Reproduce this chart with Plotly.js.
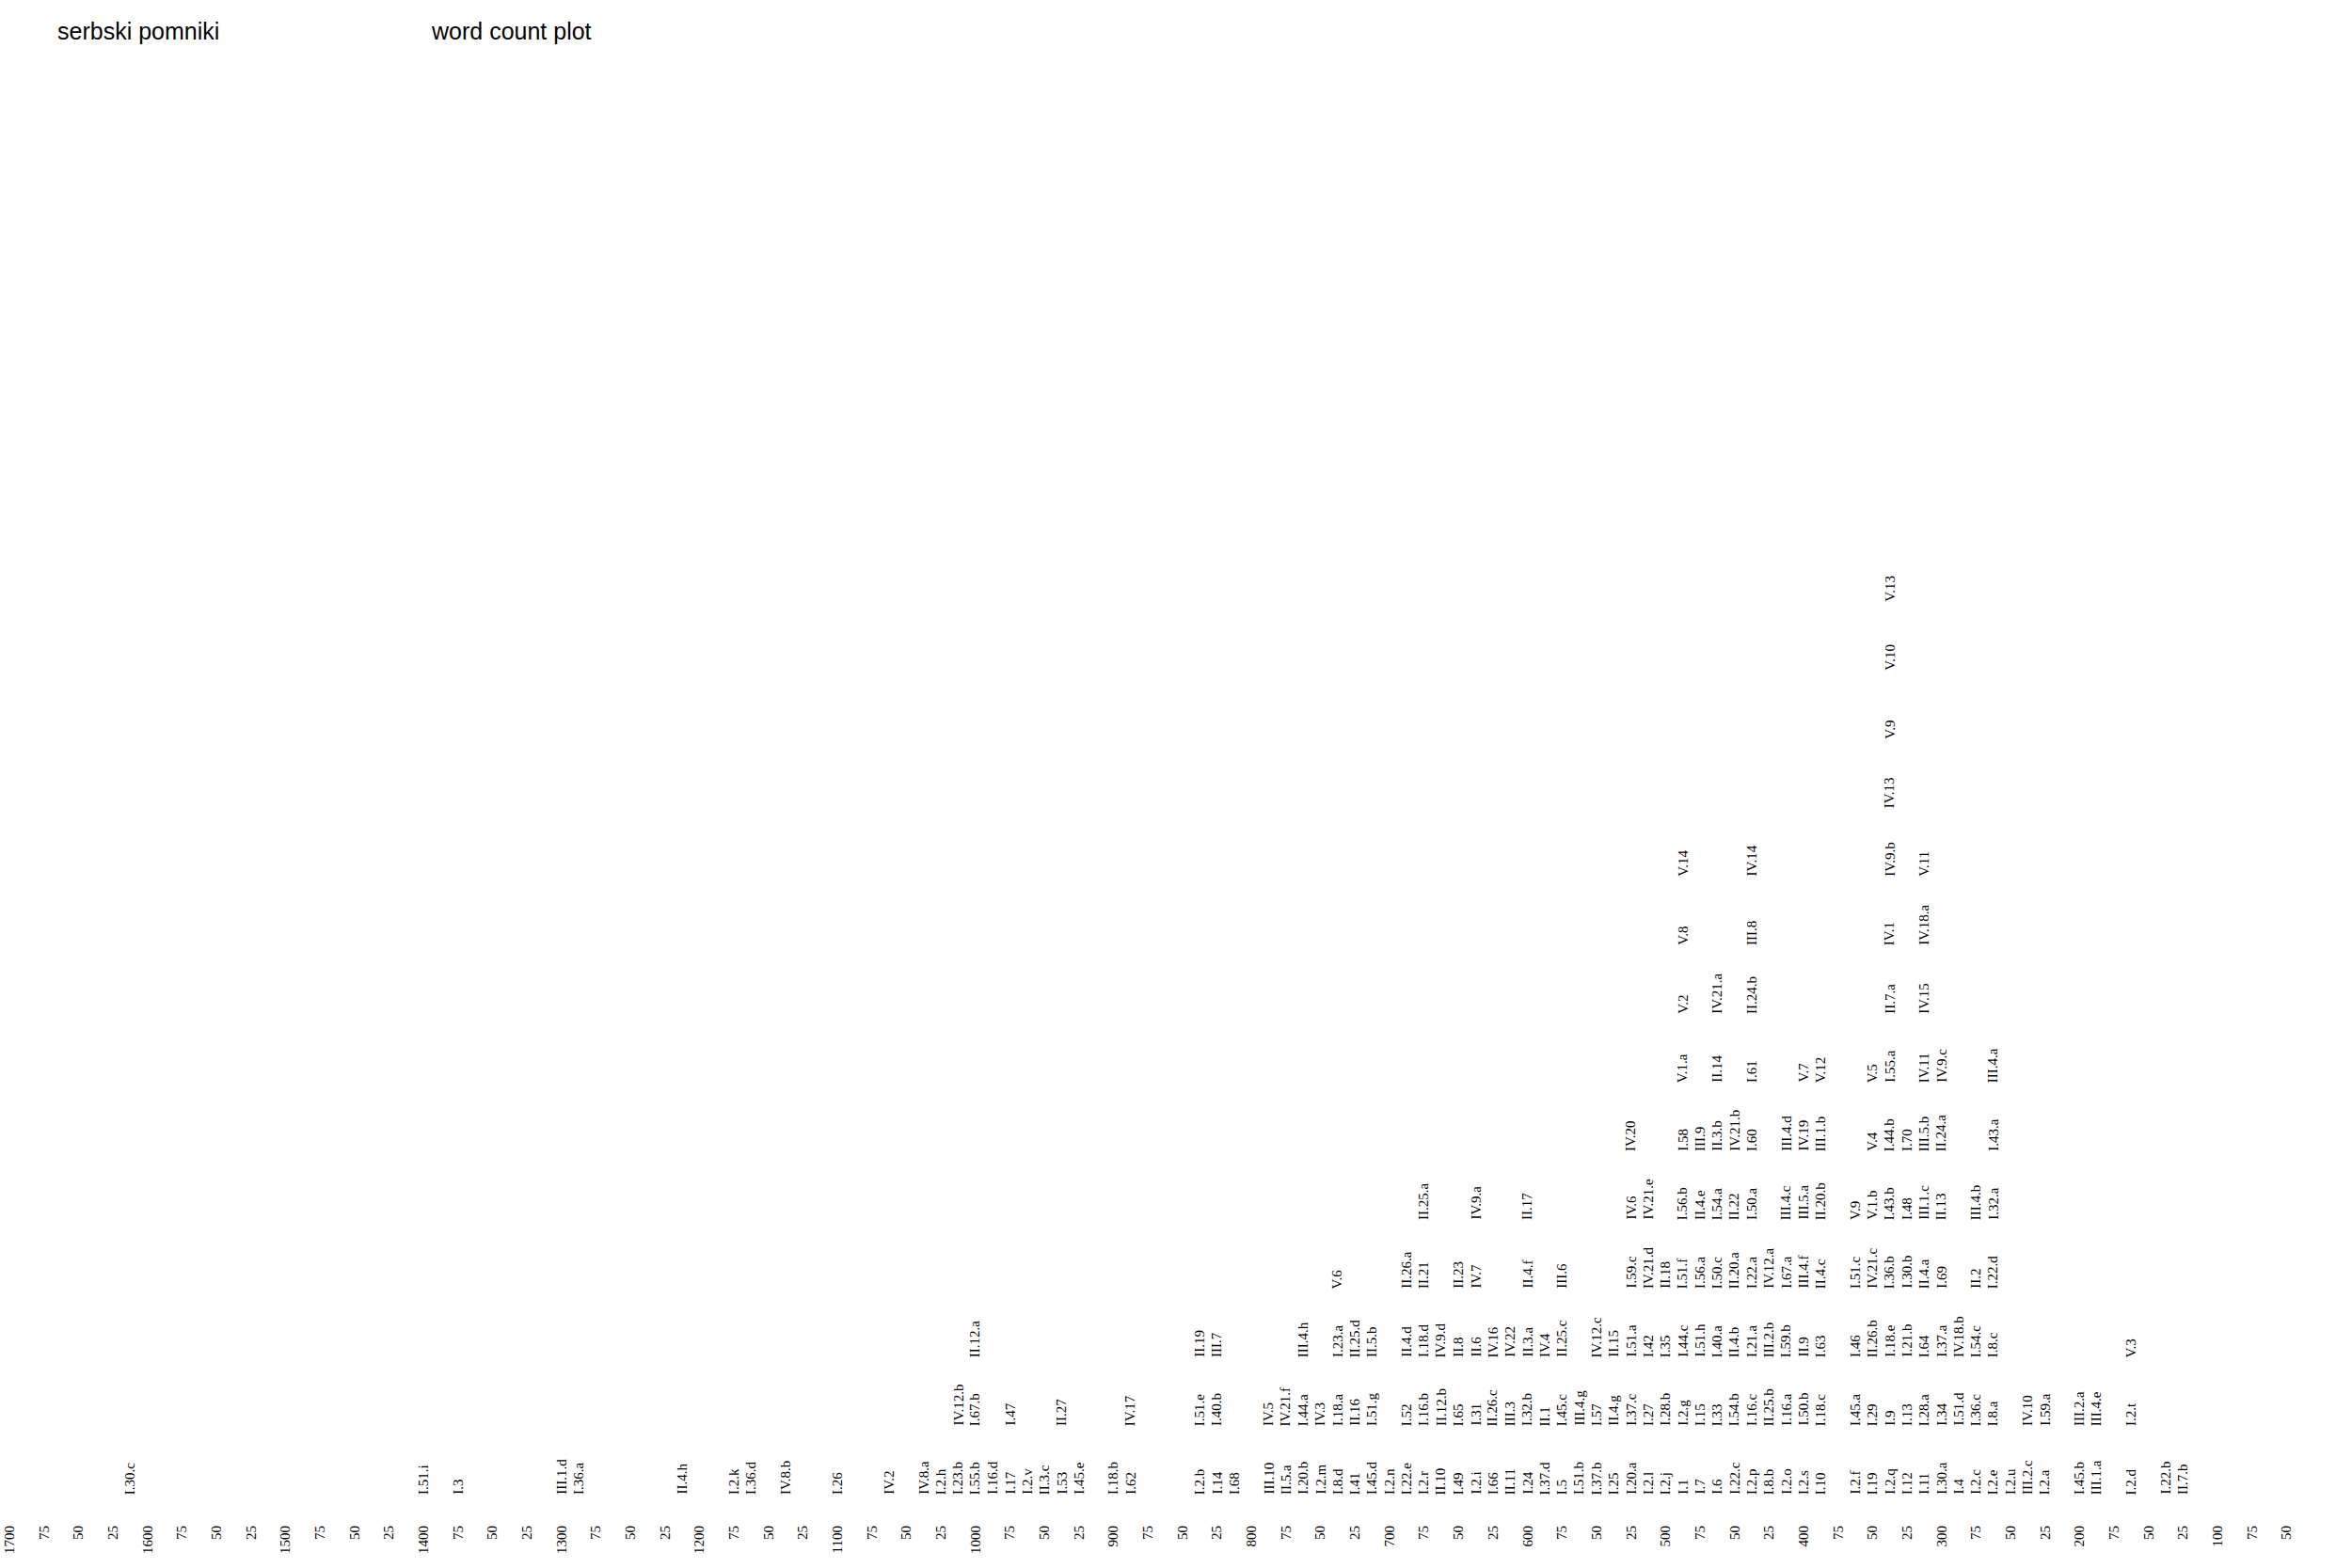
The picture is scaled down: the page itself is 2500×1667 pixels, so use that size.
<!DOCTYPE html>
<html>
<head>
<meta charset="utf-8">
<script src="https://cdn.plot.ly/plotly-3.0.1.min.js"></script>
<style>
  html, body { margin: 0; padding: 0; background: #fff; }
  #chart { width: 2500px; height: 1667px; }
</style>
</head>
<body>
<div id="chart"></div>
<script>
/* word count bins (12.5 words wide) and the texts stacked in each bin, bottom to top */
const binWords = [
  1612.5, 1400, 1375, 1300, 1287.5, 1212.5, 1175, 1162.5, 1137.5, 1100,
  1062.5, 1037.5, 1025, 1012.5, 1000, 987.5, 975, 962.5, 950, 937.5,
  925, 900, 887.5, 837.5, 825, 812.5, 787.5, 775, 762.5, 750,
  737.5, 725, 712.5, 700, 687.5, 675, 662.5, 650, 637.5, 625,
  612.5, 600, 587.5, 575, 562.5, 550, 537.5, 525, 512.5, 500,
  487.5, 475, 462.5, 450, 437.5, 425, 412.5, 400, 387.5, 362.5,
  350, 337.5, 325, 312.5, 300, 287.5, 275, 262.5, 250, 237.5,
  225, 200, 187.5, 162.5, 137.5, 125
];

const binLabels = [
  ["I.30.c"], ["I.51.i"], ["I.3"], ["III.1.d"], ["I.36.a"], ["II.4.h"], ["I.2.k"], ["I.36.d"], ["IV.8.b"], ["I.26"],
  ["IV.2"], ["IV.8.a"], ["I.2.h"], ["I.23.b", "IV.12.b"], ["I.55.b", "I.67.b", "II.12.a"], ["I.16.d"], ["I.17", "I.47"], ["I.2.v"], ["II.3.c"], ["I.53", "II.27"],
  ["I.45.e"], ["I.18.b"], ["I.62", "IV.17"], ["I.2.b", "I.51.e", "II.19"], ["I.14", "I.40.b", "III.7"], ["I.68"], ["III.10", "IV.5"], ["II.5.a", "IV.21.f"], ["I.20.b", "I.44.a", "III.4.h"], ["I.2.m", "IV.3"],
  ["I.8.d", "I.18.a", "I.23.a", "V.6"],
  ["I.41", "II.16", "II.25.d"],
  ["I.45.d", "I.51.g", "II.5.b"],
  ["I.2.n"],
  ["I.22.e", "I.52", "II.4.d", "II.26.a"],
  ["I.2.r", "I.16.b", "I.18.d", "II.21", "II.25.a"],
  ["II.10", "II.12.b", "IV.9.d"],
  ["I.49", "I.65", "II.8", "II.23"],
  ["I.2.i", "I.31", "II.6", "IV.7", "IV.9.a"],
  ["I.66", "II.26.c", "IV.16"],
  ["II.11", "III.3", "IV.22"],
  ["I.24", "I.32.b", "II.3.a", "II.4.f", "II.17"],
  ["I.37.d", "II.1", "IV.4"],
  ["I.5", "I.45.c", "II.25.c", "III.6"],
  ["I.51.b", "III.4.g"],
  ["I.37.b", "I.57", "IV.12.c"],
  ["I.25", "II.4.g", "II.15"],
  ["I.20.a", "I.37.c", "I.51.a", "I.59.c", "IV.6", "IV.20"],
  ["I.2.l", "I.27", "I.42", "IV.21.d", "IV.21.e"],
  ["I.2.j", "I.28.b", "I.35", "II.18"],
  ["I.1", "I.2.g", "I.44.c", "I.51.f", "I.56.b", "I.58", "V.1.a", "V.2", "V.8", "V.14"],
  ["I.7", "I.15", "I.51.h", "I.56.a", "II.4.e", "III.9"],
  ["I.6", "I.33", "I.40.a", "I.50.c", "I.54.a", "II.3.b", "II.14", "IV.21.a"],
  ["I.22.c", "I.54.b", "II.4.b", "II.20.a", "II.22", "IV.21.b"],
  ["I.2.p", "I.16.c", "I.21.a", "I.22.a", "I.50.a", "I.60", "I.61", "II.24.b", "III.8", "IV.14"],
  ["I.8.b", "II.25.b", "III.2.b", "IV.12.a"],
  ["I.2.o", "I.16.a", "I.59.b", "I.67.a", "III.4.c", "III.4.d"],
  ["I.2.s", "I.50.b", "II.9", "III.4.f", "III.5.a", "IV.19", "V.7"],
  ["I.10", "I.18.c", "I.63", "II.4.c", "II.20.b", "III.1.b", "V.12"],
  ["I.2.f", "I.45.a", "I.46", "I.51.c", "V.9"],
  ["I.19", "I.29", "II.26.b", "IV.21.c", "V.1.b", "V.4", "V.5"],
  ["I.2.q", "I.9", "I.18.e", "I.36.b", "I.43.b", "I.44.b", "I.55.a", "II.7.a", "IV.1", "IV.9.b", "IV.13", "V.9", "V.10", "V.13"],
  ["I.12", "I.13", "I.21.b", "I.30.b", "I.48", "I.70"],
  ["I.11", "I.28.a", "I.64", "II.4.a", "III.1.c", "III.5.b", "IV.11", "IV.15", "IV.18.a", "V.11"],
  ["I.30.a", "I.34", "I.37.a", "I.69", "II.13", "II.24.a", "IV.9.c"],
  ["I.4", "I.51.d", "IV.18.b"],
  ["I.2.c", "I.36.c", "I.54.c", "II.2", "III.4.b"],
  ["I.2.e", "I.8.a", "I.8.c", "I.22.d", "I.32.a", "I.43.a", "III.4.a"],
  ["I.2.u"],
  ["III.2.c", "IV.10"],
  ["I.2.a", "I.59.a"],
  ["I.45.b", "III.2.a"],
  ["III.1.a", "III.4.e"],
  ["I.2.d", "I.2.t", "V.3"],
  ["I.22.b"],
  ["II.7.b"]
];

const tickVals = [];
const tickText = [];
for (let v = 1700; v >= 50; v -= 25) {
  tickVals.push(v);
  tickText.push(v % 100 === 0 ? String(v) : String(v % 100));
}

const SERIF = "Liberation Serif, Times New Roman, serif";
const SANS = "Liberation Sans, Arial, sans-serif";

const annotations = [];
const px = [];
const py = [];
binWords.forEach((w, i) => {
  binLabels[i].forEach((name, level) => {
    px.push(w);
    py.push(level);
    annotations.push({
      x: w, y: level, xref: "x", yref: "y",
      text: name, textangle: -90, showarrow: false,
      xanchor: "center", yanchor: "bottom",
      borderpad: 0,
      font: { family: SERIF, size: 15, color: "#000" }
    });
  });
});

annotations.push({
  xref: "paper", yref: "paper", x: 456 / 2500, y: 1 - 33 / 1618,
  xanchor: "left", yanchor: "middle", showarrow: false,
  text: "word count plot",
  font: { family: SANS, size: 25, color: "#000" }
});

const traces = [{
  x: px, y: py, type: "scatter", mode: "markers",
  marker: { size: 1, opacity: 0 }, hoverinfo: "skip", showlegend: false
}];

const layout = {
  width: 2500, height: 1667,
  margin: { l: 0, r: 0, t: 0, b: 49 },
  paper_bgcolor: "#fff", plot_bgcolor: "#fff",
  showlegend: false,
  title: {
    text: "serbski pomniki", x: 61 / 2500, xanchor: "left",
    y: 1 - 33 / 1667, yanchor: "middle",
    font: { family: SANS, size: 25, color: "#000" }
  },
  xaxis: {
    range: [1706.8, 2.6], autorange: false,
    tickmode: "array", tickvals: tickVals, ticktext: tickText,
    tickangle: -90, ticks: "", showgrid: false, zeroline: false, showline: false,
    tickfont: { family: SERIF, size: 15, color: "#000" }
  },
  yaxis: { range: [-0.384, 21.78], visible: false, showgrid: false, zeroline: false },
  annotations: annotations
};

Plotly.newPlot("chart", traces, layout, { displayModeBar: false, staticPlot: true });
</script>
</body>
</html>
